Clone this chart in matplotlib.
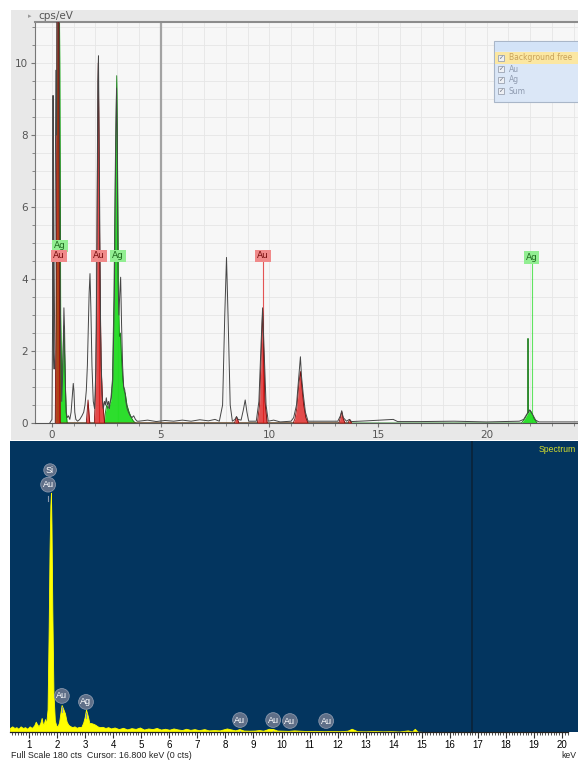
import matplotlib
matplotlib.use('Agg')
import matplotlib.pyplot as plt
from matplotlib.patches import Rectangle
from matplotlib.ticker import MultipleLocator

# ---- fitted EDS spectrum (cps/eV) ----
meas_kev = [-0.10, 0.00, 0.03, 0.05, 0.07, 0.10, 0.14, 0.18, 0.21, 0.24, 0.28, 0.32, 0.36, 0.40,
            0.45, 0.50, 0.55, 0.58, 0.62, 0.66, 0.70, 0.76, 0.82, 0.88, 0.94, 0.98, 1.01, 1.05,
            1.10, 1.18, 1.28, 1.38, 1.46, 1.52, 1.58, 1.63, 1.67, 1.71, 1.75, 1.79, 1.84, 1.90,
            1.96, 2.02, 2.07, 2.11, 2.14, 2.18, 2.24, 2.30, 2.36, 2.42, 2.46, 2.50, 2.55, 2.60,
            2.64, 2.68, 2.73, 2.80, 2.87, 2.93, 2.97, 3.00, 3.04, 3.08, 3.12, 3.16, 3.20, 3.25,
            3.30, 3.35, 3.40, 3.46, 3.52, 3.60, 3.68, 3.76, 3.84, 3.92, 4.00, 4.40, 4.80, 5.20,
            5.60, 6.00, 6.40, 6.80, 7.20, 7.50, 7.70, 7.85, 7.95, 8.03, 8.10, 8.20, 8.30, 8.42,
            8.49, 8.56, 8.70, 8.80, 8.89, 8.97, 9.05, 9.40, 9.52, 9.62, 9.69, 9.76, 9.85, 9.95,
            10.20, 10.50, 11.00, 11.12, 11.25, 11.36, 11.43, 11.48, 11.56, 11.66, 11.78, 12.50,
            13.15, 13.27, 13.33, 13.40, 13.55, 13.68, 13.78, 14.50, 15.70, 15.90, 17.00, 18.50,
            20.00, 21.50, 21.70, 21.85, 21.98, 22.10, 22.25, 22.40, 24.30]
meas_cps = [0.0, 0.1, 3.0, 9.1, 2.0, 1.5, 5.0, 9.8, 8.0, 13.0, 14.0, 13.0, 6.0, 2.0,
            0.6, 1.5, 3.2, 2.6, 1.0, 0.3, 0.15, 0.2, 0.1, 0.3, 0.8, 1.1, 0.9, 0.3,
            0.1, 0.05, 0.1, 0.2, 0.3, 0.5, 0.9, 1.6, 2.6, 3.6, 4.15, 3.2, 1.6, 0.6,
            0.4, 1.5, 5.0, 9.5, 10.2, 7.0, 2.5, 0.8, 0.4, 0.6, 0.5, 0.7, 0.5, 0.6,
            0.4, 0.6, 0.7, 1.2, 3.5, 7.5, 9.3, 8.0, 4.0, 3.0, 3.6, 4.05, 2.8, 1.6,
            1.0, 0.92, 0.6, 0.4, 0.3, 0.2, 0.15, 0.2, 0.1, 0.05, 0.05, 0.08, 0.04, 0.07,
            0.05, 0.08, 0.05, 0.09, 0.06, 0.1, 0.05, 0.5, 3.0, 4.6, 3.0, 0.5, 0.05, 0.1,
            0.18, 0.1, 0.08, 0.35, 0.64, 0.3, 0.05, 0.05, 0.6, 2.2, 3.2, 2.0, 0.5, 0.05,
            0.08, 0.03, 0.05, 0.15, 0.5, 1.3, 1.84, 1.3, 0.8, 0.3, 0.05, 0.05,
            0.05, 0.2, 0.34, 0.15, 0.05, 0.1, 0.04, 0.06, 0.1, 0.04, 0.04, 0.05,
            0.03, 0.05, 0.1, 0.25, 0.36, 0.25, 0.08, 0.03, 0.03]

au_kev = [0.15, 0.20, 0.24, 0.27, 0.30, 0.34, 0.38, 1.58, 1.63, 1.66, 1.70, 1.74,
          1.95, 2.00, 2.05, 2.09, 2.13, 2.16, 2.20, 2.26, 2.33, 2.42, 8.40, 8.45, 8.49, 8.54, 8.60,
          9.45, 9.55, 9.63, 9.69, 9.74, 9.80, 9.90, 11.10, 11.18, 11.26, 11.36, 11.43, 11.50,
          11.58, 11.68, 11.78, 13.20, 13.28, 13.33, 13.40, 13.48, 13.62, 13.70, 13.78]
au_cps = [0.0, 4.0, 13.0, 14.0, 13.0, 5.0, 0.0, 0.0, 0.4, 0.64, 0.3, 0.0,
          0.0, 0.8, 2.8, 7.0, 10.0, 8.0, 4.5, 1.6, 0.6, 0.0, 0.0, 0.1, 0.17, 0.1, 0.0,
          0.0, 0.5, 2.0, 3.15, 2.0, 0.6, 0.0, 0.0, 0.12, 0.4, 1.1, 1.43, 1.0,
          0.5, 0.15, 0.0, 0.0, 0.18, 0.32, 0.12, 0.0, 0.0, 0.1, 0.0]

ag_kev = [0.18, 0.24, 0.28, 0.32, 0.36, 0.40, 0.45, 0.50, 0.55, 0.60, 0.65, 0.70,
          2.40, 2.46, 2.52, 2.58, 2.64, 2.70, 2.78, 2.85, 2.92, 2.98, 3.02, 3.06, 3.10, 3.15,
          3.20, 3.26, 3.32, 3.38, 3.45, 3.55, 3.65, 3.75, 3.85,
          21.60, 21.75, 21.88, 21.89, 21.90, 21.91, 21.98, 22.06, 22.18, 22.32]
ag_cps = [0.0, 6.0, 12.0, 14.0, 10.0, 3.0, 1.0, 1.8, 2.7, 1.5, 0.3, 0.0,
          0.0, 0.3, 0.5, 0.4, 0.5, 0.6, 1.2, 3.5, 7.5, 9.65, 7.0, 3.5, 2.4, 2.5,
          1.8, 1.2, 0.9, 0.8, 0.5, 0.3, 0.15, 0.05, 0.0,
          0.0, 0.12, 0.26, 0.27, 2.35, 0.28, 0.36, 0.3, 0.12, 0.0]

line_elem = ['Ag', 'Au', 'Au', 'Ag', 'Au', 'Ag']
line_kev = [0.37, 0.32, 2.16, 3.03, 9.70, 22.07]
line_lbl_y = [4.92, 4.64, 4.64, 4.64, 4.64, 4.60]

legend_items = ['Background free', 'Au', 'Ag', 'Sum']

# ---- counts spectrum ----
sp_kev = [0.32, 0.40, 0.48, 0.55, 0.62, 0.70, 0.78, 0.86, 0.94, 1.02, 1.10, 1.18, 1.24, 1.28,
          1.34, 1.40, 1.45, 1.50, 1.54, 1.57, 1.61, 1.66, 1.70, 1.73, 1.76, 1.78, 1.80, 1.83,
          1.87, 1.92, 1.97, 2.02, 2.07, 2.12, 2.16, 2.22, 2.28, 2.34, 2.40, 2.46, 2.54, 2.62,
          2.70, 2.78, 2.86, 2.93, 2.98, 3.03, 3.10, 3.15, 3.22, 3.30, 3.36, 3.44, 3.52, 3.62,
          3.72, 3.82, 3.92, 4.05, 4.20, 4.35, 4.50, 4.65, 4.80, 4.95, 5.10, 5.25, 5.40, 5.55,
          5.70, 5.85, 6.00, 6.15, 6.30, 6.45, 6.60, 6.75, 6.90, 7.05, 7.25, 7.40, 7.60, 7.80,
          8.05, 8.20, 8.35, 8.50, 8.65, 8.85, 9.05, 9.20, 9.35, 9.55, 9.70, 9.85, 10.05, 10.25,
          10.45, 10.65, 10.90, 11.20, 11.50, 11.80, 12.10, 12.35, 12.50, 12.70, 13.00, 13.30,
          13.60, 13.90, 14.20, 14.50, 14.65, 14.75, 14.85, 15.10]
sp_cts = [2.5, 3.5, 2.5, 3.0, 2.0, 3.5, 2.5, 3.0, 2.0, 3.5, 2.5, 4.0, 6.4, 5.0,
          3.5, 5.5, 8.7, 4.0, 6.0, 8.0, 5.0, 14.0, 65.0, 112.0, 140.0, 148.0, 128.0, 75.0,
          24.0, 7.0, 4.0, 3.7, 6.0, 12.0, 16.7, 14.2, 11.5, 6.4, 4.5, 3.7, 3.0, 3.5,
          2.6, 3.2, 3.0, 5.8, 9.0, 14.0, 9.5, 5.5, 5.5, 5.0, 4.5, 3.5, 3.0, 3.2,
          2.5, 3.0, 2.2, 2.8, 1.8, 2.6, 1.6, 2.4, 1.9, 2.8, 1.5, 2.2, 1.8, 2.5,
          1.5, 2.0, 1.4, 2.2, 1.6, 1.2, 2.0, 1.3, 1.8, 1.1, 1.8, 1.0, 1.2, 1.0,
          2.2, 1.6, 1.0, 1.8, 0.9, 0.8, 0.9, 1.2, 0.8, 2.0, 1.8, 0.9, 0.8, 0.7,
          1.0, 0.8, 0.6, 0.7, 0.5, 0.6, 0.5, 0.8, 2.0, 0.5, 0.4, 0.6,
          0.4, 0.5, 0.3, 1.0, 0.3, 2.0, 0.2, 0.0]

peak_elem = ['Si', 'Au', 'Au', 'Ag', 'Au', 'Au', 'Au', 'Au']
peak_kev = [1.75, 1.68, 2.17, 3.03, 8.52, 9.70, 10.30, 11.59]
peak_cts = [162, 153, 22.3, 18.6, 7.4, 7.4, 6.8, 6.8]

W, H = 578, 760
fig = plt.figure(figsize=(W / 100, H / 100), dpi=100)


def fbox(x0, y0, x1, y1):
    # pixel box (top-left origin) -> figure fraction [l, b, w, h]
    return [x0 / W, 1 - y1 / H, (x1 - x0) / W, (y1 - y0) / H]


def frect(x0, y0, x1, y1, **kw):
    l, b, w, h = fbox(x0, y0, x1, y1)
    fig.add_artist(Rectangle((l, b), w, h, transform=fig.transFigure, **kw))


# top panel frame
frect(11, 10, 578, 440, facecolor='#e8e8e8', edgecolor='none', zorder=0)

ax = fig.add_axes(fbox(35, 22, 578, 423))
ax.set_facecolor('#f7f7f7')
ax.set_xlim(-0.78, 24.2)
ax.set_ylim(0, 11.14)
ax.xaxis.set_major_locator(MultipleLocator(5))
ax.xaxis.set_minor_locator(MultipleLocator(1))
ax.yaxis.set_major_locator(MultipleLocator(2))
ax.yaxis.set_minor_locator(MultipleLocator(0.5))
ax.grid(which='both', color='#e6e6e6', lw=0.6, zorder=0)
ax.set_axisbelow(True)
ax.tick_params(which='both', direction='out', color='#777777', labelsize=7.5,
               labelcolor='#555555', pad=2)
ax.tick_params(which='major', length=3)
ax.tick_params(which='minor', length=2)
ax.spines['right'].set_visible(False)
ax.spines['top'].set_color('#8c8c8c')
ax.spines['top'].set_linewidth(1.5)
ax.spines['left'].set_color('#777777')
ax.spines['left'].set_linewidth(0.8)
ax.spines['bottom'].set_color('#555555')
ax.spines['bottom'].set_linewidth(0.8)

ax.axvline(5, color='#a3a3a3', lw=1.6, zorder=1)

elem_fill = {'Au': '#dd1111', 'Ag': '#22dd22'}
elem_edge = {'Au': '#7a0a0a', 'Ag': '#147a14'}
elem_box = {'Au': '#f08a8a', 'Ag': '#92ee92'}
elem_txt = {'Au': '#7a1010', 'Ag': '#1f6a1f'}

ax.fill_between(ag_kev, ag_cps, color=elem_fill['Ag'], alpha=0.95, lw=0, zorder=2)
ax.plot(ag_kev, ag_cps, color=elem_edge['Ag'], lw=0.6, zorder=2.1)
ax.fill_between(au_kev, au_cps, color=elem_fill['Au'], alpha=0.75, lw=0, zorder=3)
ax.plot(au_kev, au_cps, color=elem_edge['Au'], lw=0.6, zorder=3.1)

for el, k, yl in zip(line_elem, line_kev, line_lbl_y):
    ax.plot([k, k], [0, yl - 0.15], color=elem_fill[el], lw=0.8, alpha=0.7, zorder=2.5)

ax.plot(meas_kev, meas_cps, color='#454545', lw=0.7, zorder=4)

for el, k, yl in zip(line_elem, line_kev, line_lbl_y):
    ax.text(k, yl, el, ha='center', va='center', fontsize=6.5, color=elem_txt[el],
            family='DejaVu Sans', zorder=6,
            bbox=dict(boxstyle='square,pad=0.2', fc=elem_box[el], ec='none'))

fig.text(28 / W, 1 - 16 / H, '\u25b8', fontsize=5, color='#999999', va='center')
fig.text(38 / W, 1 - 16 / H, 'cps/eV', fontsize=7.5, color='#555555', va='center',
         family='DejaVu Sans')

# series list box
frect(494, 41, 580, 102, facecolor='#dbe7f7', edgecolor='#a9b6c8', lw=0.8, zorder=7)
frect(495, 41.5, 580, 51, facecolor='#d3e3f7', edgecolor='none', zorder=7)
frect(495, 52, 580, 64, facecolor='#fbe7a2', edgecolor='none', zorder=7)
for i, name in enumerate(legend_items):
    yy = 58 + i * 11
    frect(498, yy - 3, 504, yy + 3, facecolor='#eef0f4', edgecolor='#9aa3b2', lw=0.6, zorder=8)
    fig.text(501 / W, 1 - yy / H, '\u2713', fontsize=4.5, color='#6a7080', ha='center',
             va='center', zorder=9)
    fig.text(509 / W, 1 - yy / H, name, fontsize=5.5, va='center', zorder=9,
             color='#c9a25a' if i == 0 else '#8f9bb0', family='DejaVu Sans')

# bottom panel
frect(10, 441, 578, 732, facecolor='#03355f', edgecolor='none', zorder=0)
ax2 = fig.add_axes(fbox(10, 441, 568, 732))
ax2.set_facecolor('#03355f')
ax2.set_xlim(0.321, 20.21)
ax2.set_ylim(0, 180)
for s in ['top', 'left', 'right']:
    ax2.spines[s].set_visible(False)
ax2.spines['bottom'].set_color('#222222')
ax2.spines['bottom'].set_linewidth(0.9)
ax2.xaxis.set_major_locator(MultipleLocator(1))
ax2.xaxis.set_minor_locator(MultipleLocator(0.1))
ax2.tick_params(axis='x', which='both', direction='out', color='#333333', labelsize=7,
                pad=2)
ax2.tick_params(axis='x', which='major', length=4, width=0.8)
ax2.tick_params(axis='x', which='minor', length=2, width=0.6)
ax2.set_yticks([])
for lbl in ax2.get_xticklabels():
    lbl.set_family('Liberation Sans')

ax2.axvline(16.8, color='#0b2238', lw=1.2, zorder=1)
ax2.fill_between(sp_kev, sp_cts, color='#ffff00', lw=0.6, zorder=2)

for el, k, c in zip(peak_elem, peak_kev, peak_cts):
    ax2.plot([k, k], [c - 7, c - 10], color='#8a98ad', lw=0.8, zorder=3)
    ax2.text(k, c, el, ha='center', va='center', fontsize=6.5, color='white',
             family='Liberation Sans', zorder=4,
             bbox=dict(boxstyle='circle,pad=0.2', fc='#5f6f88', ec='#8a98ad', lw=0.6))

fig.text(576 / W, 1 - 449 / H, 'Spectrum', fontsize=6.2, color='#d4de2c', va='center',
         ha='right', family='Liberation Sans')
fig.text(11 / W, 1 - 755 / H, 'Full Scale 180 cts  Cursor: 16.800 keV (0 cts)',
         fontsize=6.4, color='#222222', va='center', family='Liberation Sans')
fig.text(576 / W, 1 - 756 / H, 'keV', fontsize=6.2, color='#222222', va='center',
         ha='right', family='Liberation Sans')

fig.savefig('out.png', dpi=100)
